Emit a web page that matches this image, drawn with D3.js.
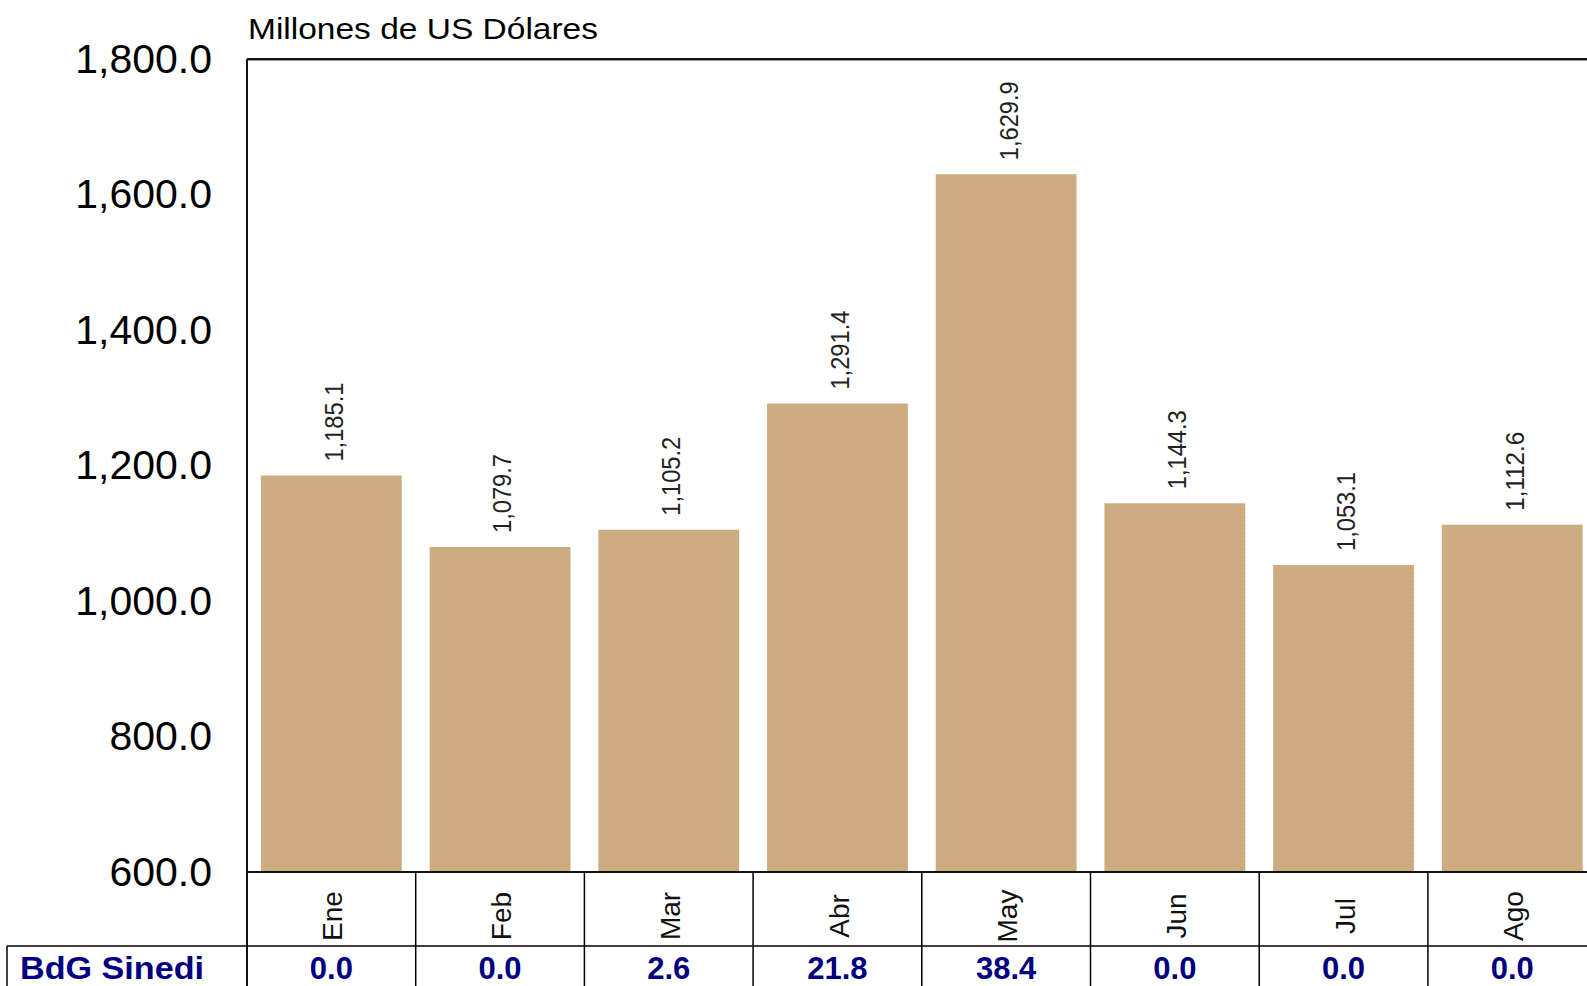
<!DOCTYPE html>
<html lang="es">
<head>
    <meta charset="UTF-8">
    <title>Millones de US Dólares</title>
    <script src="https://d3js.org/d3.v7.min.js"></script>
    <style>
        body { margin: 0; background: #fff; }
        svg { display: block; font-family: Arial, "Liberation Sans", sans-serif; }
    </style>
</head>
<body>
    <svg id="chart" width="1587" height="986"></svg>
</body>
<script>
    // data
    let months = ['Ene', 'Feb', 'Mar', 'Abr', 'May', 'Jun', 'Jul', 'Ago']
    let values = [1185.1, 1079.7, 1105.2, 1291.4, 1629.9, 1144.3, 1053.1, 1112.6]
    let sinedi = [0.0, 0.0, 2.6, 21.8, 38.4, 0.0, 0.0, 0.0]
    let yTicks = [600, 800, 1000, 1200, 1400, 1600, 1800]
    let rowLabel = 'BdG Sinedi'
    let title = 'Millones de US Dólares'

    let svg = d3.select('#chart')
    let W = 1587, H = 986
    let plotLeft = 247, plotTop = 59, plotBottom = 872, rowTop = 946, step = 168.7

    let fmt = d3.format(',.1f')

    let x = d3.scaleBand()
        .domain(months)
        .range([plotLeft, plotLeft + months.length * step])
        .paddingInner(0.165)
        .paddingOuter(0.0825)

    let y = d3.scaleLinear()
        .domain([600, 1800])
        .range([plotBottom, plotTop])

    // dotted tan fill of the bars
    let pat = svg.append('defs').append('pattern')
        .attr('id', 'dots')
        .attr('patternUnits', 'userSpaceOnUse')
        .attr('width', 4).attr('height', 4)
    pat.append('rect').attr('width', 4).attr('height', 4).attr('fill', '#CFAE84')
    pat.append('rect').attr('x', 0).attr('y', 0).attr('width', 1).attr('height', 1).attr('fill', '#BE9C72')
    pat.append('rect').attr('x', 2).attr('y', 2).attr('width', 1).attr('height', 1).attr('fill', '#BE9C72')

    // title
    svg.append('text')
        .attr('x', 248).attr('y', 39)
        .attr('font-size', 30)
        .attr('textLength', 350)
        .attr('lengthAdjust', 'spacingAndGlyphs')
        .text(title)

    // bars
    svg.append('g')
        .selectAll('rect')
        .data(values)
        .join('rect')
        .attr('x', (d, i) => x(months[i]))
        .attr('y', d => y(d))
        .attr('width', x.bandwidth())
        .attr('height', d => y(600) - y(d))
        .attr('fill', 'url(#dots)')

    // value labels above bars
    svg.append('g')
        .selectAll('text')
        .data(values)
        .join('text')
        .attr('transform', (d, i) => `translate(${x(months[i]) + x.bandwidth() / 2 + 2},${y(d) - 14}) rotate(-90)`)
        .attr('dy', '0.36em')
        .attr('font-size', 26)
        .attr('fill', '#222')
        .attr('textLength', 79)
        .attr('lengthAdjust', 'spacingAndGlyphs')
        .text(d => fmt(d))

    // y axis labels
    let yAxis = svg.append('g')
        .attr('transform', 'translate(212,0)')
        .call(d3.axisLeft(y).tickValues(yTicks).tickFormat(fmt).tickSize(0).tickPadding(0))
    yAxis.select('.domain').remove()
    yAxis.selectAll('text')
        .attr('font-size', 41)
        .attr('font-family', 'Arial, "Liberation Sans", sans-serif')
        .attr('fill', '#000')

    // plot frame
    svg.append('line').attr('x1', plotLeft).attr('x2', W).attr('y1', plotTop).attr('y2', plotTop)
        .attr('stroke', '#111').attr('stroke-width', 2)
    svg.append('line').attr('x1', plotLeft).attr('x2', W).attr('y1', plotTop + 1.5).attr('y2', plotTop + 1.5)
        .attr('stroke', '#999').attr('stroke-width', 1)
    svg.append('line').attr('x1', plotLeft).attr('x2', plotLeft).attr('y1', plotTop).attr('y2', H)
        .attr('stroke', '#111').attr('stroke-width', 2)
    svg.append('line').attr('x1', plotLeft).attr('x2', W).attr('y1', plotBottom).attr('y2', plotBottom)
        .attr('stroke', '#111').attr('stroke-width', 2)

    // data table under the chart
    svg.append('line').attr('x1', 7).attr('x2', W).attr('y1', rowTop).attr('y2', rowTop)
        .attr('stroke', '#000').attr('stroke-width', 1.5)
    svg.append('line').attr('x1', 7).attr('x2', 7).attr('y1', rowTop).attr('y2', H)
        .attr('stroke', '#000').attr('stroke-width', 1.5)

    svg.append('g')
        .selectAll('line')
        .data(months)
        .join('line')
        .attr('x1', (d, i) => plotLeft + (i + 1) * x.step())
        .attr('x2', (d, i) => plotLeft + (i + 1) * x.step())
        .attr('y1', plotBottom)
        .attr('y2', H)
        .attr('stroke', '#000')
        .attr('stroke-width', 1.5)

    // month names, rotated
    svg.append('g')
        .selectAll('text')
        .data(months)
        .join('text')
        .attr('transform', d => `translate(${x(d) + x.bandwidth() / 2 + 1},916) rotate(-90)`)
        .attr('dy', '0.36em')
        .attr('text-anchor', 'middle')
        .attr('font-size', 28)
        .attr('fill', '#111')
        .text(d => d)

    // BdG Sinedi row
    svg.append('text')
        .attr('x', 20).attr('y', 979)
        .attr('font-size', 31)
        .attr('font-weight', 'bold')
        .attr('fill', '#000080')
        .attr('textLength', 184)
        .attr('lengthAdjust', 'spacingAndGlyphs')
        .text(rowLabel)

    svg.append('g')
        .selectAll('text')
        .data(sinedi)
        .join('text')
        .attr('x', (d, i) => x(months[i]) + x.bandwidth() / 2)
        .attr('y', 979)
        .attr('text-anchor', 'middle')
        .attr('font-size', 31)
        .attr('font-weight', 'bold')
        .attr('fill', '#000080')
        .text(d => d3.format('.1f')(d))
</script>
</html>
